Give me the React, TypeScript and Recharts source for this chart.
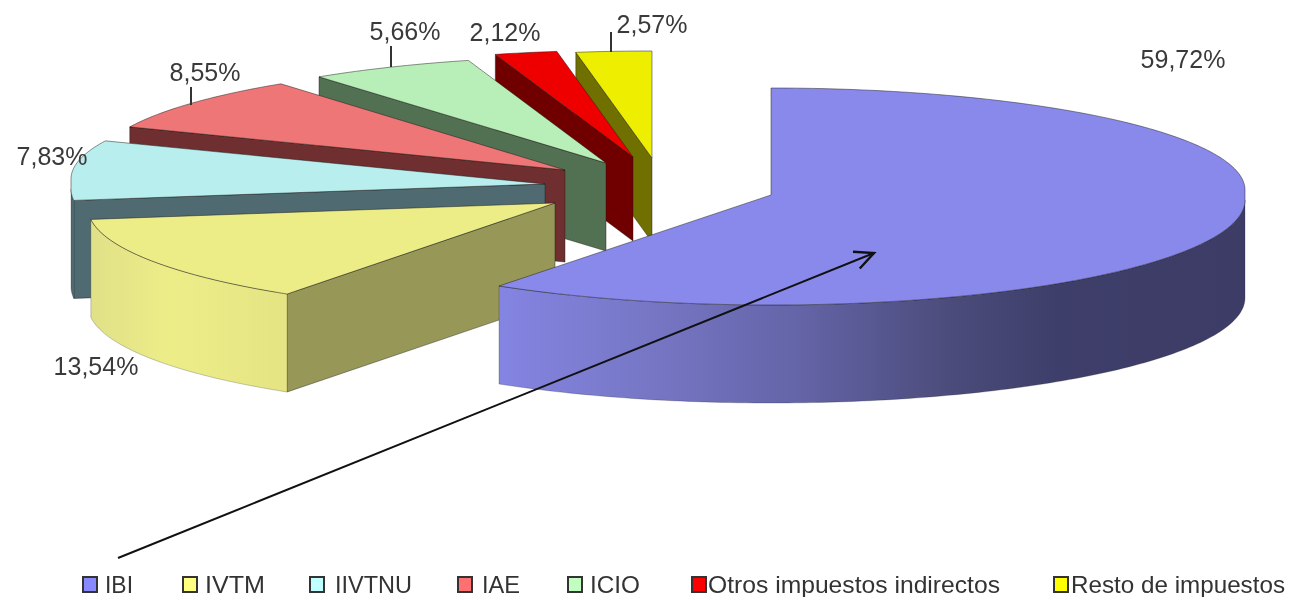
import React from "react";
import { PieChart, Pie, Legend } from "recharts";

// ---- data
const categories = ["IBI", "IVTM", "IIVTNU", "IAE", "ICIO", "Otros impuestos indirectos", "Resto de impuestos"];
const shares = [59.72, 13.54, 7.83, 8.55, 5.66, 2.12, 2.57];
const shareLabels = ["59,72%", "13,54%", "7,83%", "8,55%", "5,66%", "2,12%", "2,57%"];

// ---- styles (one entry per category)
const topColors = ["#8989ec", "#eded88", "#b8eeee", "#ee7676", "#b8eeb8", "#ee0000", "#eeee00"];
const faceColors = ["#6a6ab8", "#979757", "#4f6a70", "#6f2f30", "#527052", "#700000", "#707000"];
const wallColors = ["url(#ibiWall)", "url(#ivtmWall)", "#4f6a70", "#6f2f30", "#527052", "#700000", "#707000"];
const legendColors = ["#8888ff", "#ffff80", "#bfffff", "#ff7070", "#c0ffc0", "#ff0000", "#ffff00"];
const explodeX = [0, -216, -226, -206, -165, -138, -119];
const explodeY = [0, 8, -11, -25, -32, -38, -37];
const radiusScale = [1, 0.985, 1, 0.99, 1, 1, 1];
const depths = [98, 98, 98, 92, 88, 84, 84];
const labelX = [1183, 96, 52, 205, 405, 505, 652];
const labelY = [68, 375, 165, 81, 40, 41, 33];
const leaderX = [null, null, null, 191, 391, null, 611];
const leaderY1 = [0, 0, 0, 87, 46, 0, 32];
const leaderY2 = [0, 0, 0, 105, 67, 0, 52];
const legendSwatchX = [83, 183, 310, 458, 568, 692, 1054];
const legendTextX = [105, 205, 335, 482, 590, 708, 1071];
const legendTextW = [28, 60, 77, 38, 50, 292, 214];

const PIE_CX = 771;
const PIE_CY = 195;
const RADIUS = 474;
const BACK_SHIFT = -5;
const FRONT_SHIFT = 5;
const BACK_RY = 102;
const FRONT_RY = 105;
const EDGE = "rgba(25,25,25,0.6)";

// reversed so that the pie paints back to front while still running clockwise from the top
const chartRows = categories
  .map((name, i) => ({ name, value: shares[i], idx: i }))
  .reverse();

const rimPoint = (x0: number, y0: number, rx: number, deg: number, front: boolean) => {
  const a = (deg * Math.PI) / 180;
  const s = Math.sin(a);
  const y = front ? y0 + FRONT_SHIFT - FRONT_RY * s : y0 + BACK_SHIFT - BACK_RY * s;
  return [x0 + rx * Math.cos(a), y];
};

// rim outline from a0 to a1; the far and near halves meet in a short blunt step at the sides
const rimPath = (x0: number, y0: number, rx: number, a0: number, a1: number) => {
  const pts: number[][] = [];
  for (let deg = a0; deg <= a1 + 1e-6; deg += 1) {
    const norm = ((deg % 360) + 360) % 360;
    const front = norm >= 180;
    pts.push(rimPoint(x0, y0, rx, deg, front));
    const next = deg + 1;
    for (const b of [180, 360]) {
      if (deg < b && next > b && a1 > b) {
        pts.push(rimPoint(x0, y0, rx, b, b === 180 ? false : true));
        pts.push(rimPoint(x0, y0, rx, b, b === 180 ? true : false));
      }
    }
  }
  const last = a1 % 360;
  pts.push(rimPoint(x0, y0, rx, a1, last >= 180));
  return pts;
};

const toPath = (pts: number[][]) => pts.map((p) => `${p[0].toFixed(2)},${p[1].toFixed(2)}`).join(" L");

function SliceShape(props: any) {
  const { cx, cy, outerRadius, startAngle, endAngle, payload } = props;
  const i = payload.idx as number;
  const x0 = cx + explodeX[i];
  const y0 = cy + explodeY[i];
  const rx = outerRadius * radiusScale[i];
  const d = depths[i];
  const a0 = Math.min(startAngle, endAngle);
  const a1 = Math.max(startAngle, endAngle);
  const rim = rimPath(x0, y0, rx, a0, a1);
  const top = `M${x0},${y0} L${toPath(rim)} Z`;

  // only the cut faces turned towards the viewer are drawn
  const faces: string[] = [];
  const addFace = (p: number[]) =>
    faces.push(`M${x0},${y0} L${p[0]},${p[1]} L${p[0]},${p[1] + d} L${x0},${y0 + d} Z`);
  if (Math.sin(((a0 - 90) * Math.PI) / 180) < -1e-6) addFace(rim[0]);
  if (Math.sin(((a1 + 90) * Math.PI) / 180) < -1e-6) addFace(rim[rim.length - 1]);

  const w0 = Math.max(a0, 180);
  const w1 = Math.min(a1, 360);
  let wall: string | null = null;
  if (w1 > w0) {
    const frontRim: number[][] = [];
    for (let deg = w0; deg < w1; deg += 1) frontRim.push(rimPoint(x0, y0, rx, deg, true));
    frontRim.push(rimPoint(x0, y0, rx, w1, true));
    const lower = frontRim.map((p) => [p[0], p[1] + d]).reverse();
    wall = `M${toPath(frontRim)} L${toPath(lower)} Z`;
  }
  return (
    <g>
      {faces.map((f, k) => (
        <path key={k} d={f} fill={faceColors[i]} stroke={EDGE} strokeWidth={0.7} />
      ))}
      {wall && <path d={wall} fill={wallColors[i]} stroke={EDGE} strokeWidth={0.4} />}
      <path d={top} fill={topColors[i]} stroke={EDGE} strokeWidth={0.8} />
    </g>
  );
}

function SliceLabel(props: any) {
  const i = props.payload?.idx ?? props.idx;
  return (
    <g>
      {leaderX[i] !== null && (
        <line x1={leaderX[i] as number} x2={leaderX[i] as number} y1={leaderY1[i]} y2={leaderY2[i]} stroke="#333" strokeWidth={2} />
      )}
      <text x={labelX[i]} y={labelY[i]} textAnchor="middle" fontFamily="Liberation Sans" fontSize={25} fill="#3a3a3a">
        {shareLabels[i]}
      </text>
    </g>
  );
}

function LegendRow() {
  return (
    <svg width={1290} height={30} style={{ display: "block" }}>
      {categories.map((name, i) => (
        <g key={name}>
          <rect x={legendSwatchX[i]} y={7} width={14} height={15} fill={legendColors[i]} stroke="#333" strokeWidth={2} />
          <text
            x={legendTextX[i]}
            y={23}
            fontFamily="Liberation Sans"
            fontSize={24}
            fill="#333"
            textLength={legendTextW[i]}
            lengthAdjust="spacingAndGlyphs"
          >
            {name}
          </text>
        </g>
      ))}
    </svg>
  );
}

export default function App() {
  return (
    <div style={{ position: "absolute", left: 0, top: 0, width: 1290, height: 597, filter: "blur(0.5px)" }}>
      <PieChart width={1290} height={597} margin={{ top: 0, right: 0, bottom: 0, left: 0 }}>
        <defs>
          <linearGradient id="ibiWall" gradientUnits="userSpaceOnUse" x1={501} x2={1245} y1={0} y2={0}>
            <stop offset="0" stopColor="#8484e2" />
            <stop offset="0.18" stopColor="#7878c8" />
            <stop offset="0.4" stopColor="#6464a8" />
            <stop offset="0.6" stopColor="#4c4c7c" />
            <stop offset="0.75" stopColor="#3e3e6a" />
            <stop offset="1" stopColor="#3c3c66" />
          </linearGradient>
          <linearGradient id="ivtmWall" gradientUnits="userSpaceOnUse" x1={90} x2={288} y1={0} y2={0}>
            <stop offset="0" stopColor="#e0e088" />
            <stop offset="0.4" stopColor="#eded88" />
            <stop offset="1" stopColor="#e4e484" />
          </linearGradient>
        </defs>
        <Pie
          data={chartRows}
          dataKey="value"
          nameKey="name"
          cx={PIE_CX}
          cy={PIE_CY}
          innerRadius={0}
          outerRadius={RADIUS}
          startAngle={90}
          endAngle={450}
          stroke="none"
          shape={SliceShape}
          label={SliceLabel}
          labelLine={false}
          isAnimationActive={false}
        />
        <Legend content={LegendRow} wrapperStyle={{ left: 0, top: 570, width: 1290, height: 30 }} />
      </PieChart>
      <svg width={1290} height={597} style={{ position: "absolute", left: 0, top: 0, pointerEvents: "none" }}>
        <defs>
          <marker id="arrowHead" markerWidth="24" markerHeight="24" refX="21" refY="12" orient="auto" markerUnits="userSpaceOnUse">
            <path d="M2,3 L21,12 L2,21" fill="none" stroke="#111" strokeWidth={2.4} />
          </marker>
        </defs>
        <line x1={118} y1={558} x2={874} y2={253} stroke="#111" strokeWidth={2} markerEnd="url(#arrowHead)" />
      </svg>
    </div>
  );
}
